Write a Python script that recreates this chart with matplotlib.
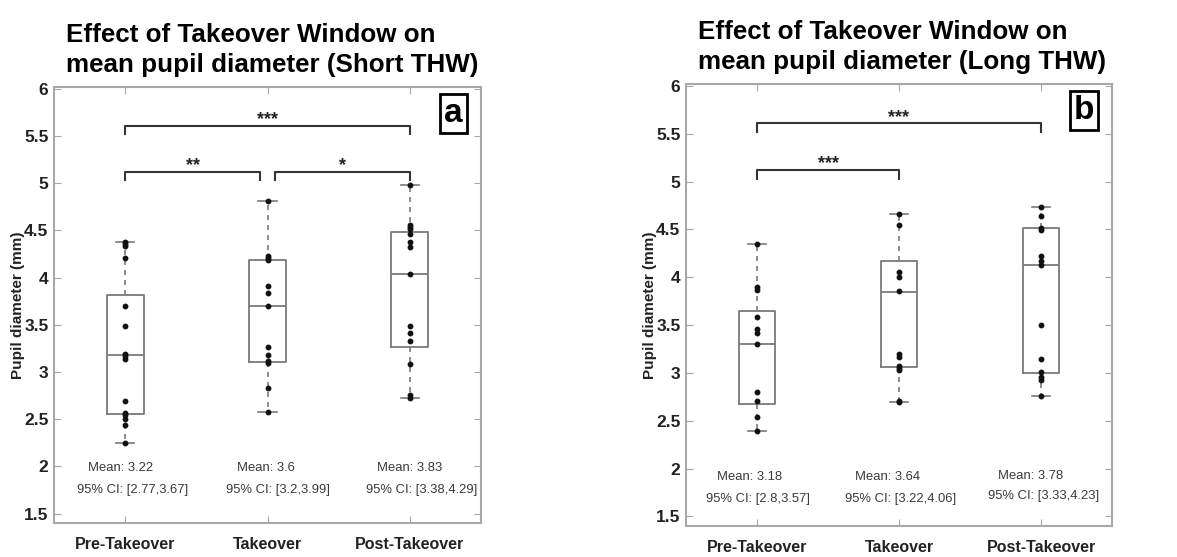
import numpy as np
import matplotlib.pyplot as plt

plt.rcParams['font.family'] = ['Liberation Sans', 'DejaVu Sans']

CATS = ["Pre-Takeover", "Takeover", "Post-Takeover"]
TITLES = ["Effect of Takeover Window on\nmean pupil diameter (Short THW)",
          "Effect of Takeover Window on\nmean pupil diameter (Long THW)"]
PANEL = ["a", "b"]

# box stats per condition: whislo, q1, median, q3, whishi
SHORT_BOX = [(2.25, 2.55, 3.18, 3.82, 4.38),
             (2.58, 3.11, 3.70, 4.19, 4.81),
             (2.72, 3.26, 4.04, 4.48, 4.98)]
LONG_BOX = [(2.39, 2.67, 3.30, 3.65, 4.35),
            (2.70, 3.06, 3.85, 4.17, 4.66),
            (2.76, 3.00, 4.13, 4.51, 4.73)]

SHORT_PTS = [[4.38, 4.36, 4.34, 4.21, 3.70, 3.49, 3.19, 3.17, 3.14, 2.69, 2.57, 2.54, 2.50, 2.44, 2.25],
             [4.81, 4.23, 4.21, 4.19, 3.91, 3.84, 3.70, 3.27, 3.18, 3.12, 3.10, 2.83, 2.58],
             [4.98, 4.56, 4.54, 4.52, 4.46, 4.38, 4.32, 4.04, 3.49, 3.41, 3.33, 3.08, 2.76, 2.72]]
LONG_PTS = [[4.35, 3.90, 3.87, 3.58, 3.46, 3.42, 3.30, 2.80, 2.71, 2.54, 2.39],
            [4.66, 4.55, 4.05, 4.00, 3.86, 3.20, 3.17, 3.07, 3.05, 3.03, 2.71, 2.70],
            [4.73, 4.64, 4.52, 4.49, 4.22, 4.17, 4.13, 3.50, 3.15, 3.01, 2.96, 2.93, 2.76]]

SHORT_MEAN = ["3.22", "3.6", "3.83"]
SHORT_CI = ["[2.77,3.67]", "[3.2,3.99]", "[3.38,4.29]"]
LONG_MEAN = ["3.18", "3.64", "3.78"]
LONG_CI = ["[2.8,3.57]", "[3.22,4.06]", "[3.33,4.23]"]

# significance brackets: (from, to, level, stars)
SHORT_SIG = [(1, 3, 5.61, "***"), (1, 1.95, 5.12, "**"), (2.05, 3, 5.12, "*")]
LONG_SIG = [(1, 3, 5.61, "***"), (1, 2, 5.12, "***")]

# layout of the text annotations (x of mean, x of CI, y of mean, y of CI)
SHORT_TXT = ([0.97, 1.99, 3.0], [1.05, 2.07, 3.08], [1.98, 1.98, 1.98], [1.75, 1.75, 1.75])
LONG_TXT = ([0.95, 1.92, 2.93], [1.01, 2.01, 3.02], [1.91, 1.91, 1.92], [1.68, 1.68, 1.71])

GREY = "#7a7a7a"
FRAME = "#a8a8a8"


def panel(ax, boxes, pts, means, cis, sig, txt, label, title):
    stats = [dict(whislo=b[0], q1=b[1], med=b[2], q3=b[3], whishi=b[4], fliers=[])
             for b in boxes]
    ax.bxp(stats, positions=[1, 2, 3], widths=0.26, showfliers=False,
           boxprops=dict(color=GREY, lw=1.3),
           medianprops=dict(color=GREY, lw=1.3),
           whiskerprops=dict(color=GREY, lw=1.2, ls=(0, (3, 3))),
           capprops=dict(color=GREY, lw=1.2), capwidths=0.13)
    for i, p in enumerate(pts):
        ax.plot(np.full(len(p), i + 1), p, "o", color="#111111", ms=3.2, zorder=3)
    for x0, x1, y, s in sig:
        ax.plot([x0, x0, x1, x1], [y - 0.09, y, y, y - 0.09], color="#333333", lw=1.5)
        ax.text((x0 + x1) / 2, y - 0.025, s, ha="center", va="bottom",
                fontsize=13, fontweight="bold", color="#222222")
    mx, cx, my, cy = txt
    for i in range(3):
        ax.text(mx[i], my[i], f"Mean: {means[i]}", ha="center", va="center",
                fontsize=9.4, color="#3a3a3a")
        ax.text(cx[i], cy[i], f"95% CI: {cis[i]}", ha="center", va="center",
                fontsize=9.4, color="#3a3a3a")
    ax.text(0.935, 0.94, label, transform=ax.transAxes, ha="center", va="center",
            fontsize=24, fontweight="bold",
            bbox=dict(boxstyle="square,pad=0.12", fc="white", ec="black", lw=2))
    ax.set_xlim(0.5, 3.5)
    ax.set_ylim(1.4, 6.02)
    ax.set_yticks(np.arange(1.5, 6.01, 0.5))
    ax.set_yticklabels(["1.5", "2", "2.5", "3", "3.5", "4", "4.5", "5", "5.5", "6"])
    ax.set_xticks([1, 2, 3])
    ax.set_xticklabels(CATS)
    ax.tick_params(direction="in", length=5, color=FRAME, top=True, right=True,
                   labelcolor="#222222")
    ax.tick_params(axis="y", labelsize=12.5, pad=4)
    ax.tick_params(axis="x", labelsize=11.5, pad=10)
    for t in ax.get_xticklabels() + ax.get_yticklabels():
        t.set_fontweight("bold")
    for s in ax.spines.values():
        s.set_color(FRAME)
        s.set_linewidth(1.5)
    ax.set_ylabel("Pupil diameter (mm)", fontsize=11, fontweight="bold", color="#222222",
                  labelpad=-1)
    ax.set_title(title, loc="left", fontsize=18.7, fontweight="bold", pad=11,
                 x=0.027, linespacing=1.32)


fig = plt.figure(figsize=(11.77, 5.57), dpi=100)
ax1 = fig.add_axes([54 / 1177, 1 - 523 / 557, 427 / 1177, 436 / 557])
ax2 = fig.add_axes([686 / 1177, 1 - 526 / 557, 426 / 1177, 442 / 557])
panel(ax1, SHORT_BOX, SHORT_PTS, SHORT_MEAN, SHORT_CI, SHORT_SIG, SHORT_TXT, PANEL[0], TITLES[0])
panel(ax2, LONG_BOX, LONG_PTS, LONG_MEAN, LONG_CI, LONG_SIG, LONG_TXT, PANEL[1], TITLES[1])
fig.savefig("out.png", dpi=100)
